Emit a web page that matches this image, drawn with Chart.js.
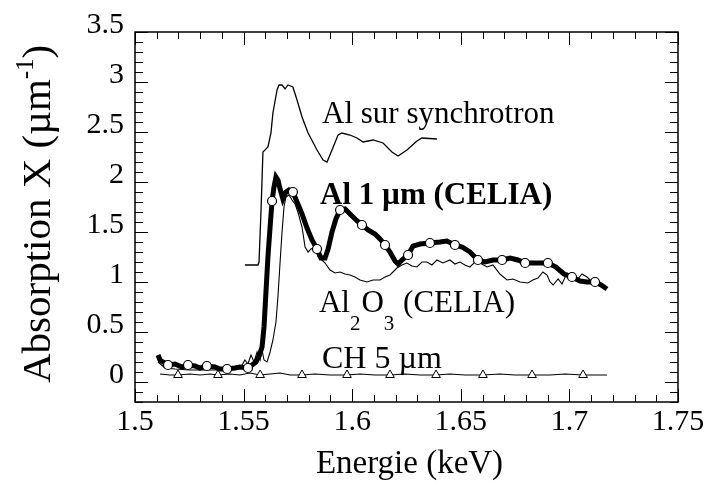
<!DOCTYPE html>
<html><head><meta charset="utf-8">
<script src="https://cdn.jsdelivr.net/npm/chart.js@4/dist/chart.umd.min.js"></script>
<style>html,body{margin:0;padding:0;background:#fff}#wrap{width:709px;height:484px;position:relative}</style>
</head><body><div id="wrap"><canvas id="c"></canvas></div>
<script>
// ---- tick labels ----
const xTicks = [1.5, 1.55, 1.6, 1.65, 1.7, 1.75];
const yTicks = [0, 0.5, 1, 1.5, 2, 2.5, 3, 3.5];

// ---- Al sur synchrotron ----
const synchE = [1.5506,1.5566,1.5571,1.5580,1.5589,1.5612,1.5626,1.5635,1.5654,1.5663,1.5677,1.5691,1.5704,1.5727,1.5746,1.5769,1.5797,1.5838,1.5866,1.5884,1.5907,1.5935,1.5953,1.5990,1.6022,1.6050,1.6096,1.6142,1.6183,1.6211,1.6252,1.6298,1.6321,1.6390];
const synchV = [1.17,1.17,1.20,1.70,2.30,2.35,2.49,2.69,2.92,2.97,2.97,2.93,2.97,2.95,2.82,2.65,2.49,2.32,2.22,2.20,2.32,2.47,2.49,2.47,2.44,2.40,2.42,2.39,2.30,2.26,2.32,2.41,2.44,2.43];

// ---- Al 1 µm (CELIA) ----
const alE = [1.5106,1.5115,1.5129,1.5152,1.5184,1.5216,1.5244,1.5276,1.5299,1.5331,1.5368,1.5391,1.5424,1.5460,1.5483,1.5520,1.5539,1.5557,1.5571,1.5585,1.5594,1.5603,1.5612,1.5622,1.5631,1.5640,1.5649,1.5658,1.5668,1.5681,1.5695,1.5709,1.5727,1.5746,1.5769,1.5792,1.5815,1.5838,1.5856,1.5875,1.5889,1.5907,1.5925,1.5944,1.5967,1.5990,1.6018,1.6045,1.6073,1.6105,1.6128,1.6151,1.6174,1.6197,1.6211,1.6229,1.6257,1.6280,1.6312,1.6358,1.6404,1.6436,1.6473,1.6506,1.6542,1.6579,1.6611,1.6648,1.6690,1.6727,1.6763,1.6796,1.6842,1.6901,1.6938,1.6975,1.7012,1.7049,1.7081,1.7118,1.7146,1.7173];
const alV = [0.27,0.22,0.20,0.17,0.18,0.15,0.17,0.16,0.14,0.16,0.15,0.13,0.13,0.14,0.15,0.14,0.17,0.20,0.26,0.35,0.55,0.90,1.25,1.55,1.81,1.95,2.05,2.02,1.93,1.83,1.90,1.92,1.90,1.80,1.68,1.54,1.42,1.33,1.24,1.24,1.33,1.50,1.63,1.72,1.73,1.68,1.62,1.57,1.52,1.48,1.43,1.37,1.30,1.21,1.18,1.22,1.27,1.36,1.38,1.39,1.40,1.41,1.37,1.35,1.30,1.22,1.20,1.22,1.22,1.24,1.22,1.19,1.19,1.19,1.15,1.08,1.05,1.01,1.00,1.00,0.97,0.93];
const alMarkE = [1.5152,1.5244,1.5331,1.5424,1.5520,1.5631,1.5727,1.5838,1.5944,1.6045,1.6151,1.6257,1.6358,1.6473,1.6579,1.6690,1.6796,1.6901,1.7012,1.7118];

// ---- Al2O3 (CELIA) ----
const aloE = [1.5106,1.5138,1.5184,1.5253,1.5322,1.5391,1.5460,1.5493,1.5506,1.5520,1.5534,1.5548,1.5562,1.5576,1.5585,1.5594,1.5608,1.5622,1.5635,1.5649,1.5658,1.5668,1.5677,1.5686,1.5695,1.5709,1.5723,1.5737,1.5750,1.5769,1.5783,1.5797,1.5810,1.5829,1.5843,1.5861,1.5875,1.5898,1.5921,1.5944,1.5967,1.5990,1.6013,1.6036,1.6068,1.6096,1.6128,1.6151,1.6174,1.6206,1.6229,1.6252,1.6275,1.6298,1.6321,1.6344,1.6367,1.6390,1.6418,1.6450,1.6473,1.6496,1.6519,1.6542,1.6565,1.6588,1.6621,1.6648,1.6680,1.6713,1.6740,1.6773,1.6809,1.6832,1.6855,1.6878,1.6897,1.6911,1.6925,1.6948,1.6966,1.6989,1.7012,1.7035,1.7058,1.7081,1.7109,1.7141];
const aloV = [0.20,0.14,0.13,0.12,0.12,0.12,0.13,0.17,0.22,0.18,0.27,0.20,0.30,0.22,0.32,0.22,0.20,0.30,0.42,0.60,0.85,1.20,1.50,1.75,1.85,1.87,1.82,1.78,1.70,1.55,1.35,1.30,1.33,1.35,1.25,1.22,1.19,1.12,1.09,1.10,1.08,1.07,1.05,1.02,1.00,1.02,1.02,1.05,1.07,1.14,1.17,1.19,1.16,1.15,1.20,1.20,1.17,1.22,1.19,1.22,1.18,1.20,1.17,1.15,1.20,1.19,1.15,1.17,1.08,1.02,1.03,1.00,0.99,1.02,1.04,1.10,1.07,1.00,0.97,1.03,0.98,1.09,1.03,1.02,1.08,1.05,0.99,1.00];

// ---- CH 5 µm ----
const chE = [1.5115,1.5161,1.5198,1.5253,1.5299,1.5345,1.5382,1.5437,1.5483,1.5529,1.5576,1.5622,1.5668,1.5714,1.5769,1.5829,1.5898,1.5976,1.6036,1.6105,1.6174,1.6243,1.6312,1.6386,1.6450,1.6519,1.6602,1.6680,1.6750,1.6828,1.6911,1.6980,1.7063,1.7118,1.7173];
const chV = [0.08,0.07,0.07,0.08,0.07,0.08,0.07,0.08,0.07,0.09,0.07,0.08,0.09,0.07,0.07,0.08,0.07,0.07,0.08,0.07,0.07,0.08,0.07,0.07,0.08,0.07,0.07,0.08,0.07,0.07,0.07,0.08,0.07,0.07,0.07];
const chMarkE = [1.5198,1.5382,1.5576,1.5769,1.5976,1.6174,1.6386,1.6602,1.6828,1.7063];

const FONT = '"Liberation Serif","Times New Roman",serif';
const pts = (xs, ys) => xs.map((e, i) => ({x: e, y: ys[i]}));
const alMarkSet = new Set(alMarkE);
const chMarkSet = new Set(chMarkE);

const framePlugin = {
  id: 'frame',
  afterDatasetsDraw(chart) {
    const {ctx, chartArea: a, scales: {x, y}} = chart;
    ctx.save();
    ctx.strokeStyle = '#000';
    ctx.lineWidth = 1;
    ctx.beginPath();
    for (let i = 150; i <= 175; i++) {
      const px = Math.round(x.getPixelForValue(i / 100)) + 0.5;
      const L = (i % 5 === 0) ? 13 : 7;
      ctx.moveTo(px, a.bottom); ctx.lineTo(px, a.bottom - L);
      ctx.moveTo(px, a.top); ctx.lineTo(px, a.top + L);
    }
    for (let i = -2; i <= 35; i++) {
      const py = Math.round(y.getPixelForValue(i / 10)) + 0.5;
      const L = (i % 5 === 0) ? 13 : 8;
      ctx.moveTo(a.left, py); ctx.lineTo(a.left + L, py);
      ctx.moveTo(a.right, py); ctx.lineTo(a.right - L, py);
    }
    ctx.stroke();
    ctx.lineWidth = 1.5;
    ctx.strokeRect(a.left, a.top, a.right - a.left, a.bottom - a.top);
    ctx.restore();
  },
  afterDraw(chart) {
    const {ctx, chartArea: a, scales: {x, y}} = chart;
    ctx.save();
    ctx.fillStyle = '#000';
    ctx.textBaseline = 'alphabetic';
    ctx.textAlign = 'left';
    const X = v => x.getPixelForValue(v), Y = v => y.getPixelForValue(v);
    // annotations
    ctx.font = '31px ' + FONT;
    ctx.fillText('Al sur synchrotron', X(1.5861), Y(2.59));
    ctx.font = 'bold 31px ' + FONT;
    ctx.fillText('Al 1 µm (CELIA)', X(1.5852), Y(1.78));
    // Al2O3 with subscripts
    let px = X(1.5847); const by = Y(0.70);
    const parts = [['Al', 31, 0], ['2', 21, 18], ['O', 31, 0], ['3', 21, 18], [' (CELIA)', 31, 0]];
    for (const [t, s, dy] of parts) {
      ctx.font = s + 'px ' + FONT;
      ctx.fillText(t, px, by + dy);
      px += ctx.measureText(t).width + (dy ? 1 : 0);
    }
    ctx.font = '32px ' + FONT;
    ctx.fillText('CH 5 µm', X(1.5861), Y(0.14));
    // x axis title
    ctx.font = '33px ' + FONT;
    ctx.textAlign = 'center';
    ctx.fillText('Energie (keV)', (a.left + a.right) / 2 + 3, 473);
    // y axis title with superscript
    ctx.translate(50, 383);
    ctx.rotate(-Math.PI / 2);
    ctx.textAlign = 'left';
    let tx = 0;
    const yparts = [['Absorption X (µm', 41, 0], ['-1', 25, -17], [')', 41, 0]];
    for (const [t, s, dy] of yparts) {
      ctx.font = s + 'px ' + FONT;
      ctx.fillText(t, tx, dy);
      tx += ctx.measureText(t).width;
    }
    ctx.restore();
  }
};

new Chart(document.getElementById('c'), {
  type: 'line',
  data: {
    datasets: [
      {label: 'Al 1 µm (CELIA)', data: pts(alE, alV), borderColor: '#000', borderWidth: 5,
       pointRadius: c => alMarkSet.has(c.raw && c.raw.x) ? 4.5 : 0,
       pointBackgroundColor: '#fff', pointBorderColor: '#000', pointBorderWidth: 1.2, pointHoverRadius: 0},
      {label: 'Al sur synchrotron', data: pts(synchE, synchV), borderColor: '#000', borderWidth: 1.3, pointRadius: 0},
      {label: 'Al2O3 (CELIA)', data: pts(aloE, aloV), borderColor: '#000', borderWidth: 1.1, pointRadius: 0},
      {label: 'CH 5 µm', data: pts(chE, chV), borderColor: '#000', borderWidth: 1.1,
       pointStyle: 'triangle', pointRadius: c => chMarkSet.has(c.raw && c.raw.x) ? 5 : 0,
       pointBackgroundColor: '#fff', pointBorderColor: '#000', pointBorderWidth: 1}
    ]
  },
  options: {
    responsive: true, maintainAspectRatio: false, devicePixelRatio: 1, animation: false,
    layout: {padding: {top: 32, right: 31, left: 0, bottom: 0}},
    plugins: {legend: {display: false}, tooltip: {enabled: false}},
    elements: {line: {tension: 0, fill: false}},
    scales: {
      x: {type: 'linear', min: 1.5, max: 1.75,
          grid: {display: false, drawTicks: false}, border: {display: false},
          afterBuildTicks: s => { s.ticks = xTicks.map(v => ({value: v})); },
          afterFit: s => { s.height = 82; },
          ticks: {color: '#000', padding: 2, maxRotation: 0, autoSkip: false,
                  font: {family: FONT, size: 30}, callback: v => String(v)}},
      y: {type: 'linear', min: -0.2, max: 3.5,
          grid: {display: false, drawTicks: false}, border: {display: false},
          afterBuildTicks: s => { s.ticks = yTicks.map(v => ({value: v})); },
          afterFit: s => { s.width = 135; },
          ticks: {color: '#000', padding: 11, autoSkip: false, labelOffset: -7,
                  font: {family: FONT, size: 30}, callback: v => String(v)}}
    }
  },
  plugins: [framePlugin]
});
</script></body></html>
